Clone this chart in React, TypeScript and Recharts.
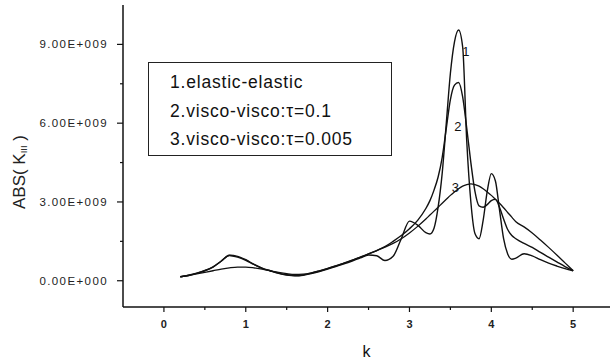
import React from "react";
import { LineChart, Line, XAxis, YAxis, Legend, ReferenceDot } from "recharts";

// k grid (finer around the resonance)
const kValues = [
  0.2, 0.3, 0.4, 0.5, 0.6, 0.7, 0.8, 0.9, 1.0, 1.1, 1.2, 1.3, 1.4, 1.5, 1.6, 1.7,
  1.8, 1.9, 2.0, 2.1, 2.2, 2.3, 2.4, 2.5, 2.6, 2.7, 2.8, 2.9, 3.0, 3.1, 3.2,
  3.25, 3.3, 3.35, 3.4, 3.45, 3.5, 3.55, 3.6, 3.65, 3.7, 3.75, 3.8, 3.85, 3.9,
  3.95, 4.0, 4.05, 4.1, 4.15, 4.2, 4.25, 4.3, 4.4, 4.5, 4.6, 4.7, 4.8, 4.9, 5.0,
];

// ABS(K_III) in units of 1E+009
const elastic = [
  0.15, 0.2, 0.28, 0.38, 0.52, 0.74, 0.97, 0.93, 0.8, 0.62, 0.47, 0.37, 0.28, 0.22, 0.19, 0.21,
  0.27, 0.35, 0.44, 0.54, 0.64, 0.75, 0.87, 0.98, 0.95, 0.77, 0.93, 1.6, 2.27, 2.12, 1.83,
  1.78, 2.0, 2.8, 4.1, 6.0, 7.9, 9.1, 9.55, 8.9, 5.3, 3.0, 1.8, 1.6, 2.3,
  3.4, 4.08, 3.8, 2.7, 1.6, 1.02, 0.82, 0.86, 1.03, 0.95, 0.8, 0.67, 0.56, 0.46, 0.38,
];
const visco01 = [
  0.15, 0.21, 0.29, 0.39, 0.53, 0.75, 0.96, 0.9, 0.78, 0.62, 0.48, 0.38, 0.29, 0.23, 0.2, 0.22,
  0.29, 0.37, 0.46, 0.56, 0.67, 0.78, 0.9, 1.02, 1.15, 1.3, 1.5, 1.72, 1.98, 2.3, 2.75,
  3.05, 3.45, 3.95, 4.7, 5.8, 6.9, 7.45, 7.55, 7.0, 5.8, 4.5, 3.4, 2.85, 2.8,
  2.9, 3.05, 3.1, 2.8, 2.35, 1.95, 1.72, 1.6, 1.42, 1.27, 1.08, 0.9, 0.72, 0.54, 0.38,
];
const visco005 = [
  0.15, 0.2, 0.26, 0.32, 0.38, 0.44, 0.49, 0.52, 0.52, 0.49, 0.44, 0.38, 0.32, 0.27, 0.24, 0.25,
  0.3, 0.38, 0.47, 0.57, 0.67, 0.78, 0.9, 1.02, 1.15, 1.28, 1.42, 1.6, 1.82, 2.07, 2.35,
  2.5, 2.65, 2.8, 2.95, 3.1, 3.25, 3.38, 3.5, 3.6, 3.66, 3.69, 3.66, 3.6, 3.5,
  3.38, 3.25, 3.1, 2.95, 2.78, 2.6, 2.42, 2.25, 2.05, 1.82, 1.55, 1.27, 0.98, 0.68, 0.38,
];

const seriesNames = ["1.elastic-elastic", "2.visco-visco:\u03c4=0.1", "3.visco-visco:\u03c4=0.005"];
const curveTags = ["1", "2", "3"];
const tagK = [3.69, 3.59, 3.56];
const tagV = [8.76, 5.9, 3.58];

const xTicks = [0, 0.5, 1, 1.5, 2, 2.5, 3, 3.5, 4, 4.5, 5];
const yTicks = [0, 1.5, 3, 4.5, 6, 7.5, 9];

const data = kValues.map((k, i) => ({
  k,
  s1: elastic[i],
  s2: visco01[i],
  s3: visco005[i],
}));

const FONT = "'Liberation Sans', Arial, sans-serif";

function XTick({ x, y, payload }: any) {
  const major = Number.isInteger(payload.value);
  return (
    <g>
      <line x1={x} x2={x} y1={y} y2={y + (major ? 5 : 3)} stroke="#111" strokeWidth={1.2} />
      {major && (
        <text x={x} y={y + 21} textAnchor="middle" fontSize={11} fontWeight="bold" fill="#222" fontFamily={FONT}>
          {payload.value}
        </text>
      )}
    </g>
  );
}

function YTick({ x, y, payload }: any) {
  const v = payload.value;
  const major = v % 3 === 0;
  return (
    <g>
      <line x1={x - (major ? 6 : 3)} x2={x} y1={y} y2={y} stroke="#111" strokeWidth={1.2} />
      {major && (
        <text
          x={x - 15}
          y={y + 4}
          textAnchor="end"
          fontSize={11.5}
          style={{ letterSpacing: "1.4px" }}
          fill="#222"
          fontFamily={FONT}
        >
          {v === 0 ? "0.00E+000" : `${v.toFixed(2)}E+009`}
        </text>
      )}
    </g>
  );
}

function LegendBox() {
  return (
    <div
      style={{
        border: "1px solid #222",
        width: 244,
        height: 94,
        boxSizing: "border-box",
        padding: "5px 0 0 21px",
        fontFamily: FONT,
        fontSize: 17.5,
        letterSpacing: 0.8,
        lineHeight: "28.5px",
        color: "#111",
        background: "#fff",
        whiteSpace: "nowrap",
      }}
    >
      {seriesNames.map((n) => (
        <div key={n}>{n}</div>
      ))}
    </div>
  );
}

function TagLabel({ viewBox, value }: any) {
  return (
    <text x={viewBox.x} y={viewBox.y + 5} textAnchor="middle" fontSize={13} fill="#111" fontFamily={FONT}>
      {value}
    </text>
  );
}

export default function App() {
  return (
    <div style={{ position: "absolute", left: 0, top: 0, background: "#fff" }}>
      <LineChart width={610} height={361} data={data} margin={{ top: 5, right: 0, bottom: 0, left: 0 }}>
        <XAxis
          dataKey="k"
          type="number"
          domain={[-0.5, 5.45]}
          ticks={xTicks}
          allowDataOverflow
          tick={<XTick />}
          tickLine={false}
          tickSize={0}
          tickMargin={0}
          height={54}
          axisLine={{ stroke: "#111", strokeWidth: 1.5 }}
          label={{ value: "k", position: "insideBottom", offset: 4, fontSize: 16, fill: "#111", fontFamily: FONT }}
        />
        <YAxis
          type="number"
          domain={[-1, 10.5]}
          ticks={yTicks}
          allowDataOverflow
          tick={<YTick />}
          tickLine={false}
          tickSize={0}
          tickMargin={0}
          width={123}
          axisLine={{ stroke: "#111", strokeWidth: 1.5 }}
          label={() => {
            const cx = 19;
            const cy = 172;
            return (
              <text
                x={cx}
                y={cy}
                transform={`rotate(-90 ${cx} ${cy})`}
                textAnchor="middle"
                dominantBaseline="central"
                fontSize={17}
                fill="#222"
                fontFamily={FONT}
              >
                ABS( K
                <tspan fontSize={9.5} dy={4}>III</tspan>
                <tspan dy={-4}> )</tspan>
              </text>
            );
          }}
        />
        <Legend
          layout="horizontal"
          verticalAlign="middle"
          align="center"
          wrapperStyle={{ position: "absolute", left: 148, top: 62, width: 244, height: 94 }}
          content={() => <LegendBox />}
        />
        <Line dataKey="s1" name={seriesNames[0]} type="monotone" stroke="#111" strokeWidth={1.4} dot={false} isAnimationActive={false} />
        <Line dataKey="s2" name={seriesNames[1]} type="monotone" stroke="#111" strokeWidth={1.4} dot={false} isAnimationActive={false} />
        <Line dataKey="s3" name={seriesNames[2]} type="monotone" stroke="#111" strokeWidth={1.3} dot={false} isAnimationActive={false} />
        {curveTags.map((t, i) => (
          <ReferenceDot
            key={t}
            x={tagK[i]}
            y={tagV[i]}
            r={0}
            fill="none"
            stroke="none"
            label={<TagLabel value={t} />}
          />
        ))}
      </LineChart>
    </div>
  );
}
